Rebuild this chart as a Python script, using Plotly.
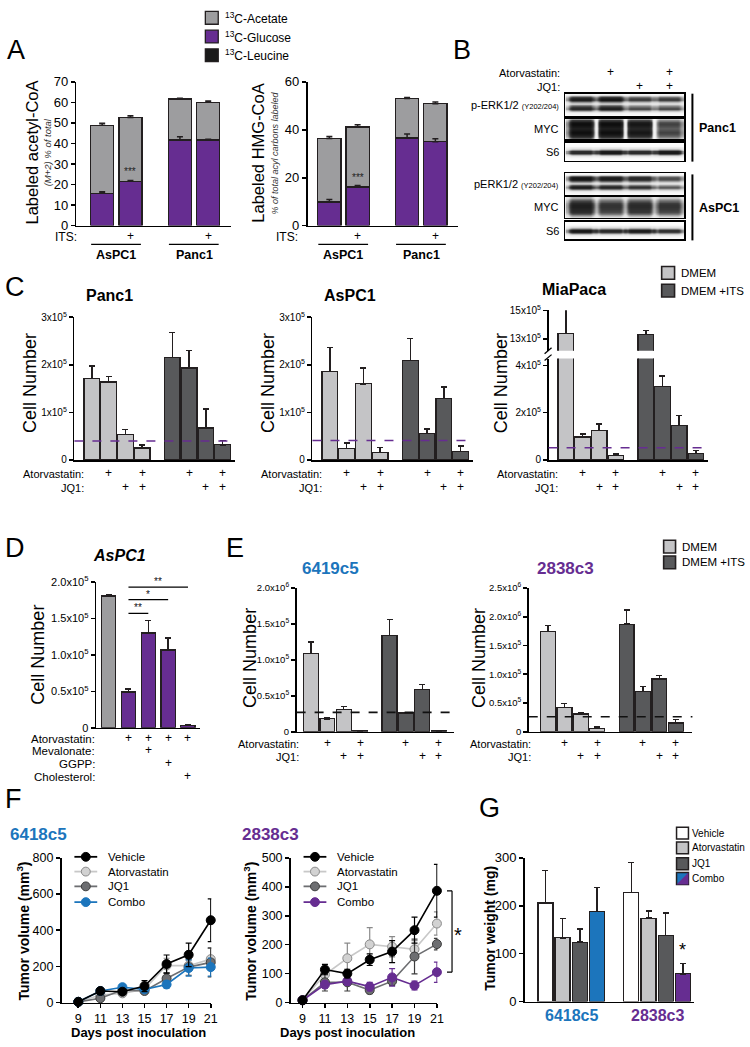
import plotly.graph_objects as go

W, H = 750, 1047
FONT = "Liberation Sans, Arial, sans-serif"
NARROW = FONT
INK = "#231f20"
LIGHT = "#c4c4c6"
DARK = "#58595b"
MID = "#9d9d9f"
PURPLE = "#662d91"
BLUE = "#1c75bc"

# ---------------- DATA ----------------
# Panel A (percent labelled)
A_cells = ["AsPC1", "AsPC1", "Panc1", "Panc1"]
A_its = ["", "+", "", "+"]
A_sig = ["", "***", "", ""]
acetyl_glucose = [15.7, 21.6, 41.7, 41.7]
acetyl_glucose_err = [0.8, 0.4, 1.6, 0.3]
acetyl_total = [48.9, 52.7, 61.7, 60.1]
acetyl_total_err = [1.0, 0.8, 0.3, 0.6]
hmg_glucose = [9.9, 16.1, 36.6, 35.0]
hmg_glucose_err = [1.0, 0.6, 1.6, 1.3]
hmg_total = [36.4, 41.2, 53.0, 50.9]
hmg_total_err = [0.8, 0.9, 0.5, 0.7]
A_legend = ["<sup>13</sup>C-Acetate", "<sup>13</sup>C-Glucose", "<sup>13</sup>C-Leucine"]

# Panel B (western blot band intensities, lanes 1-4)
B_atorva = ["", "+", "", "+"]
B_jq1 = ["", "", "+", "+"]
panc1_perk_lanes = [0.95, 1.0, 0.78, 0.78]
panc1_myc_lanes = [1.0, 1.0, 0.95, 0.72]
panc1_s6_lanes = [0.85, 0.95, 0.85, 0.95]
aspc1_perk_lanes = [1.0, 0.95, 0.88, 0.72]
aspc1_myc_lanes = [0.95, 0.82, 0.88, 0.82]
aspc1_s6_lanes = [0.95, 0.85, 0.92, 0.8]
perk_profile = [0.1, 0.8, 0.95, 0.55, 0.3, 0.7, 0.9, 0.5, 0.12, 0.05]
myc_profile_panc1 = [0.7, 0.92, 0.95, 0.9, 0.85, 0.9, 0.95, 0.9, 0.8, 0.6]
myc_profile_aspc1 = [0.45, 0.7, 0.85, 0.9, 0.9, 0.85, 0.8, 0.65, 0.4]
s6_profile = [0.02, 0.05, 0.3, 0.9, 0.95, 0.45, 0.08, 0.02]

# Panel C (cell number, x10^5)
C_atorva = ["", "+", "", "+", "", "+", "", "+"]
C_jq1 = ["", "", "+", "+", "", "", "+", "+"]
C_media = ["DMEM", "DMEM +ITS"]
c_panc1 = [1.71, 1.64, 0.54, 0.25, 2.15, 1.93, 0.67, 0.32]
c_panc1_err = [0.26, 0.11, 0.10, 0.06, 0.53, 0.37, 0.40, 0.09]
c_aspc1 = [1.86, 0.24, 1.60, 0.16, 2.09, 0.56, 1.29, 0.18]
c_aspc1_err = [0.50, 0.12, 0.33, 0.10, 0.46, 0.09, 0.24, 0.11]
c_miapaca = [13.37, 0.97, 1.24, 0.18, 13.3, 3.10, 1.45, 0.28]
c_miapaca_err = [1.7, 0.13, 0.29, 0.07, 0.3, 0.46, 0.44, 0.13]
c_baseline = [0.40, 0.41, 0.52]

# Panel D
D_rows = ["Atorvastatin:", "Mevalonate:", "GGPP:", "Cholesterol:"]
D_marks = [["", "+", "+", "+", "+"],
           ["", "", "+", "", ""],
           ["", "", "", "+", ""],
           ["", "", "", "", "+"]]
d_vals = [1.81, 0.49, 1.30, 1.07, 0.03]
d_err = [0.02, 0.04, 0.17, 0.16, 0.01]
d_sig = [("***", 0, 1, 2.14), ("**", 1, 4, 1.93), ("*", 1, 3, 1.76), ("**", 1, 2, 1.57)]

# Panel E
e_6419 = [1.09, 0.18, 0.31, 0.01, 1.34, 0.26, 0.59, 0.01]
e_6419_err = [0.16, 0.02, 0.04, 0.0, 0.22, 0.01, 0.07, 0.0]
e_2838 = [1.745, 0.42, 0.31, 0.06, 1.87, 0.70, 0.92, 0.15]
e_2838_err = [0.10, 0.07, 0.02, 0.02, 0.25, 0.09, 0.06, 0.06]
e_baseline = [0.27, 0.26]

# Panel F (tumor volume, mm3)
days = [9, 11, 13, 15, 17, 19, 21]
treatments = ["Vehicle", "Atorvastatin", "JQ1", "Combo"]
f1_vehicle = [4, 64, 60, 91, 213, 264, 455]
f1_vehicle_err = [3, 15, 12, 30, 50, 65, 118]
f1_atorva = [4, 42, 51, 73, 205, 204, 240]
f1_atorva_err = [2, 12, 12, 15, 40, 30, 60]
f1_jq1 = [4, 24, 69, 64, 133, 196, 222]
f1_jq1_err = [2, 15, 15, 12, 30, 45, 80]
f1_combo = [4, 64, 85, 73, 100, 191, 196]
f1_combo_err = [2, 12, 15, 12, 20, 45, 50]
f2_vehicle = [8, 114, 100, 148, 176, 250, 386]
f2_vehicle_err = [2, 18, 15, 20, 38, 45, 91]
f2_atorva = [8, 97, 153, 201, 193, 184, 273]
f2_atorva_err = [2, 15, 52, 58, 35, 30, 40]
f2_jq1 = [8, 70, 70, 43, 74, 159, 202]
f2_jq1_err = [2, 30, 30, 12, 15, 60, 20]
f2_combo = [8, 62, 74, 55, 87, 59, 105]
f2_combo_err = [2, 12, 15, 15, 30, 15, 35]

# Panel G (tumor weight, mg)
G_groups = ["6418c5", "2838c3"]
g_vehicle = [206, 228]
g_vehicle_err = [68, 62]
g_atorva = [133, 174]
g_atorva_err = [40, 15]
g_jq1 = [124, 138]
g_jq1_err = [27, 47]
g_combo = [188, 58]
g_combo_err = [50, 21]
g_sig = ["", "*"]

# ---------------- HELPERS ----------------
def X(p):
    return p / W

def Y(p):
    return 1 - p / H

axes_layout = {}
traces, shapes, annos = [], [], []
_count = [0]


def axes(x0, x1, ytop, ybot, xr, yr, ticks=None, ticktext=None, tsize=11, tfam=NARROW,
         xline=True, yline=True, xticks=None):
    _count[0] += 1
    s = "" if _count[0] == 1 else str(_count[0])
    xa = dict(domain=[X(x0), X(x1)], range=xr, anchor="y" + s, showgrid=False, zeroline=False,
              showline=xline, linecolor="black", linewidth=1.6, ticks="", showticklabels=False,
              fixedrange=True)
    if xticks is not None:
        xa.update(ticks="outside", ticklen=4, tickwidth=1.6, tickcolor="black", showticklabels=True,
                  tickmode="array", tickvals=xticks, tickfont=dict(size=tsize, family=tfam, color="black"))
    ya = dict(domain=[Y(ybot), Y(ytop)], range=yr, anchor="x" + s, showgrid=False, zeroline=False,
              showline=yline, linecolor="black", linewidth=1.6, ticks="outside", ticklen=4,
              tickwidth=1.6, tickcolor="black", fixedrange=True,
              tickfont=dict(size=tsize, family=tfam, color="black"))
    if ticks is not None:
        ya.update(tickmode="array", tickvals=ticks,
                  ticktext=ticktext if ticktext is not None else [str(t) for t in ticks])
    axes_layout["xaxis" + s] = xa
    axes_layout["yaxis" + s] = ya
    return "x" + s, "y" + s


def txt(x, y, t, size=12, fam=FONT, color="black", xa="center", ya="middle", angle=0,
        xref="paper", yref="paper", yshift=0):
    annos.append(dict(x=X(x) if xref == "paper" else x, y=Y(y) if yref == "paper" else y,
                      xref=xref, yref=yref, text=t, showarrow=False,
                      font=dict(size=size, family=fam, color=color), xanchor=xa, yanchor=ya,
                      textangle=angle, yshift=yshift))


def seg(x0, y0, x1, y1, xref="paper", yref="paper", color="black", width=1.5, dash=None):
    shapes.append(dict(type="line", xref=xref, yref=yref,
                       x0=X(x0) if xref == "paper" else x0, x1=X(x1) if xref == "paper" else x1,
                       y0=Y(y0) if yref == "paper" else y0, y1=Y(y1) if yref == "paper" else y1,
                       line=dict(color=color, width=width, dash=dash)))


def box(x0, y0, x1, y1, fill, lc=INK, lw=1.3):
    shapes.append(dict(type="rect", xref="paper", yref="paper", x0=X(x0), x1=X(x1), y0=Y(y1), y1=Y(y0),
                       fillcolor=fill, line=dict(color=lc, width=lw)))


def bar(xa, ya, pos, vals, err, colors, width):
    kw = {}
    if err is not None:
        kw["error_y"] = dict(type="data", array=err, arrayminus=[0] * len(err), symmetric=False,
                             color=INK, thickness=1.5, width=3)
    traces.append(go.Bar(x=pos, y=vals, xaxis=xa, yaxis=ya, width=width, showlegend=False,
                         marker=dict(color=colors, line=dict(color=INK, width=1.3)), **kw))


def errs(xa, ya, pos, vals, err):
    traces.append(go.Scatter(x=pos, y=vals, xaxis=xa, yaxis=ya, mode="markers", showlegend=False,
                             marker=dict(size=1, color="rgba(0,0,0,0)"),
                             error_y=dict(type="data", array=err, arrayminus=[0] * len(err),
                                          symmetric=False, color=INK, thickness=1.5, width=3)))


def frac(v, r):
    return (v - r[0]) / (r[1] - r[0])


def letter(x, y, t):
    txt(x, y, t, size=27, xa="left")

# ---------------- PANEL A ----------------
letter(5, 43, "A")
posA = [0, 1, 2.75, 3.75]
for (x0, x1, xr, glu, glu_e, tot, tot_e, yr, tk, ylab, sub, ylx, subx, subsize, itsx) in [
        (77, 233, [-0.912, 4.561], acetyl_glucose, acetyl_glucose_err, acetyl_total, acetyl_total_err,
         [0, 70], list(range(0, 71, 10)), "Labeled acetyl-CoA", "<i>(M+2) % of total</i>", 32, 48, 9.5, 80),
        (310, 462, [-0.772, 4.561], hmg_glucose, hmg_glucose_err, hmg_total, hmg_total_err,
         [0, 60], [0, 20, 40, 60], "Labeled HMG-CoA", "<i>% of total acyl carbons labeled</i>", 260, 277, 9, 302)]:
    xa, ya = axes(x0, x1, 75, 221, xr, yr, ticks=tk, tsize=13, tfam=FONT)
    acetate = [t - g for t, g in zip(tot, glu)]
    bar(xa, ya, posA, glu, None, PURPLE, 0.82)
    bar(xa, ya, posA, acetate, None, MID, 0.82)
    errs(xa, ya, posA, glu, glu_e)
    errs(xa, ya, posA, tot, tot_e)
    for p, g, s in zip(posA, glu, A_sig):
        if s:
            txt(p, g, s, size=10, color="#222222", xref=xa, yref=ya, ya="bottom", yshift=2)
    txt(itsx, 233, "ITS:", size=12, xa="right")
    for p, m in zip(posA, A_its):
        if m:
            txt(p, 232, m, size=12, xref=xa)
    for gi, name in enumerate(["AsPC1", "Panc1"]):
        a, b = posA[2 * gi], posA[2 * gi + 1]
        seg(a - 0.39, 240, b + 0.37, 240, xref=xa, width=1.3)
        txt((a + b) / 2, 251, "<b>" + name + "</b>", size=12.5, xref=xa)
    txt(ylx, 147, ylab, size=16.5, angle=-90)
    txt(subx, 147, sub, size=subsize, angle=-90, color="#333333")

for i, (lab, col) in enumerate(zip(A_legend, [MID, PURPLE, "#1a1a1a"])):
    yy = 10 + 19 * i
    box(207, yy - 6.5, 220, yy + 6.5, col)
    txt(225, yy, lab, size=12, xa="left")

# ---------------- PANEL B ----------------
letter(455, 43, "B")
blot_strips = [
    ("Panc1", "p-ERK1/2 <span style='font-size:7.5px'>(Y202/204)</span>", panc1_perk_lanes, perk_profile, 0.7, 87, 110),
    ("Panc1", "MYC", panc1_myc_lanes, myc_profile_panc1, 0.0, 113, 133),
    ("Panc1", "S6", panc1_s6_lanes, s6_profile, 0.85, 137, 155),
    ("AsPC1", "pERK1/2 <span style='font-size:7.5px'>(Y202/204)</span>", aspc1_perk_lanes, perk_profile, 0.75, 168, 190),
    ("AsPC1", "MYC", aspc1_myc_lanes, myc_profile_aspc1, 0.5, 192, 213),
    ("AsPC1", "S6", aspc1_s6_lanes, s6_profile, 0.9, 217, 235),
]
BX0, BX1 = 570, 690
for cell, lab, lanes, prof, gap, y0, y1 in blot_strips:
    cols = [0.5]
    for li, lv in enumerate(lanes):
        cols += [lv * 0.8] + [lv] * 8 + [lv * 0.8]
        cols += [gap * 0.9] if li < len(lanes) - 1 else [0.5]
    z = [[pv * cv for cv in cols] for pv in prof]
    xa, ya = axes(BX0, BX1, y0, y1, [-0.5, len(cols) - 0.5], [len(prof) - 0.5, -0.5])
    axes_layout["yaxis" + xa[1:]].update(ticks="", showticklabels=False, mirror=True)
    axes_layout["xaxis" + xa[1:]].update(mirror=True)
    traces.append(go.Heatmap(z=z, xaxis=xa, yaxis=ya, zsmooth="best", showscale=False, zmin=0, zmax=1,
                             colorscale=[[0, "#ffffff"], [0.3, "#dcdcdc"], [0.7, "#3a3a3a"], [1, "#050505"]],
                             hoverinfo="skip"))
    txt(566, (y0 + y1) / 2, lab, size=11, xa="right")
lane_w = (BX1 - BX0) / 4
txt(567, 66, "Atorvastatin:", size=11, xa="right")
txt(567, 80, "JQ1:", size=11, xa="right")
for li in range(4):
    cx = BX0 + (li + 0.5) * lane_w
    if B_atorva[li]:
        txt(cx, 65, "+", size=12)
    if B_jq1[li]:
        txt(cx, 79, "+", size=12)
seg(698, 87, 698, 156, width=2)
seg(698, 169, 698, 236, width=2)
txt(703, 122, "<b>Panc1</b>", size=12.5, xa="left")
txt(703, 203, "<b>AsPC1</b>", size=12.5, xa="left")

# ---------------- PANEL C ----------------
letter(3, 283, "C")
posC = [0, 1, 2, 3, 4.8, 5.8, 6.8, 7.8]
xrC = [-1.04, 8.55]
colC = [LIGHT] * 4 + [DARK] * 4
c_ticks = [0, 1, 2, 3]
c_ticktext = ["0", "1x10<sup>5</sup>", "2x10<sup>5</sup>", "3x10<sup>5</sup>"]


def plus_rows(xa, pos, rows, ys):
    for marks, yy in zip(rows, ys):
        for p, m in zip(pos, marks):
            if m:
                txt(p, yy, m, size=12, xref=xa)


for ci, (x0, vals, ev, title, ylx) in enumerate([(75, c_panc1, c_panc1_err, "Panc1", 30),
                                                  (315, c_aspc1, c_aspc1_err, "AsPC1", 270)]):
    xa, ya = axes(x0, x0 + 162, 314, 459, xrC, [0, 3], ticks=c_ticks, ticktext=c_ticktext, tsize=10)
    bar(xa, ya, posC, vals, ev, colC, 0.94)
    seg(0, c_baseline[ci], 1, c_baseline[ci], xref=xa + " domain", yref=ya, color=PURPLE, width=1.6, dash="dash")
    txt(x0 + 10, 292, "<b>" + title + "</b>", size=16, xa="left")
    txt(ylx, 381, "Cell Number", size=18, angle=-90)
    txt(x0 + 12, 473, "Atorvastatin:", size=11, xa="right")
    txt(x0 + 12, 487, "JQ1:", size=11, xa="right")
    plus_rows(xa, posC, [C_atorva, C_jq1], [472, 486])

# MiaPaca with broken axis
x0 = 553
xa_u, ya_u = axes(x0, x0 + 161, 307, 348, xrC, [12.17, 15], ticks=[13, 15],
                  ticktext=["13x10<sup>5</sup>", "15x10<sup>5</sup>"], tsize=10, xline=False)
bar(xa_u, ya_u, posC, c_miapaca, c_miapaca_err, colC, 0.94)
xa_l, ya_l = axes(x0, x0 + 161, 356, 459, xrC, [0, 4.29], ticks=[0, 2, 4],
                  ticktext=["0", "2x10<sup>5</sup>", "4x10<sup>5</sup>"], tsize=10)
bar(xa_l, ya_l, posC, c_miapaca, c_miapaca_err, colC, 0.94)
seg(0, c_baseline[2], 1, c_baseline[2], xref=xa_l + " domain", yref=ya_l, color=PURPLE, width=1.6, dash="dash")
seg(549, 351, 556, 345, width=1.3)
seg(549, 358, 556, 352, width=1.3)
txt(544, 286, "<b>MiaPaca</b>", size=16, xa="left")
txt(505, 381, "Cell Number", size=18, angle=-90)
txt(x0 + 12, 473, "Atorvastatin:", size=11, xa="right")
txt(x0 + 12, 487, "JQ1:", size=11, xa="right")
plus_rows(xa_l, posC, [C_atorva, C_jq1], [472, 486])

for i, (lab, col) in enumerate(zip(C_media, [LIGHT, DARK])):
    yy = 269 + 18 * i
    box(667, yy - 6.5, 680, yy + 6.5, col, lw=1.6)
    txt(684, yy, lab, size=11.5, xa="left")

# ---------------- PANEL D ----------------
letter(3, 548, "D")
posD = [0, 1, 2, 3, 4]
xrD = [-0.625, 4.625]
xa, ya = axes(97, 202, 583, 731, xrD, [0, 2.0], ticks=[0, 0.5, 1.0, 1.5, 2.0],
              ticktext=["0", "0.5x10<sup>5</sup>", "1.0x10<sup>5</sup>", "1.5x10<sup>5</sup>", "2.0x10<sup>5</sup>"],
              tsize=11)
bar(xa, ya, posD, d_vals, d_err, [MID] + [PURPLE] * 4, 0.72)
for lab, i, j, yv in d_sig:
    a = i - 0.45 if i == 0 else i
    b = j - 0.05 if i == 0 else j
    seg(frac(a, xrD), yv, frac(b, xrD), yv, xref=xa + " domain", yref=ya, width=1.3)
    annos.append(dict(x=frac((a + b) / 2, xrD), y=yv, xref=xa + " domain", yref=ya, text=lab,
                      showarrow=False, font=dict(size=10, family=FONT, color="#111111"),
                      xanchor="center", yanchor="bottom", yshift=-2))
txt(120, 556, "<b><i>AsPC1</i></b>", size=16)
txt(38, 657, "Cell Number", size=18, angle=-90)
for ri, (row, marks) in enumerate(zip(D_rows, D_marks)):
    yy = [742, 755, 768, 781][ri]
    txt(98, yy, row, size=11.5, xa="right")
    plus_rows(xa, posD, [marks], [yy - 1])

# ---------------- PANEL E ----------------
letter(226, 548, "E")
posE = [0, 1, 2, 3, 4.8, 5.8, 6.8, 7.8]
for ci, (x0, x1, xr, yr, vals, ev, title, tcol, ylx, tk, tt) in enumerate([
        (299, 458, [-0.88, 8.76], [0, 2.0], e_6419, e_6419_err, "6419c5", BLUE, 252,
         [0, 0.5, 1.0, 1.5, 2.0], ["0", "0.5x10<sup>5</sup>", "1.0x10<sup>5</sup>", "1.5x10<sup>5</sup>", "2.0x10<sup>6</sup>"]),
        (533, 698, [-1.18, 8.82], [0, 2.5], e_2838, e_2838_err, "2838c3", PURPLE, 483,
         [0, 0.5, 1.0, 1.5, 2.0, 2.5], ["0", "0.5x10<sup>5</sup>", "1.0x10<sup>5</sup>", "1.5x10<sup>5</sup>",
                                        "2.0x10<sup>6</sup>", "2.5x10<sup>6</sup>"])]):
    xa, ya = axes(x0, x1, 589, 735, xr, yr, ticks=tk, ticktext=tt, tsize=9.5)
    bar(xa, ya, posE, vals, ev, colC, 0.91)
    seg(0, e_baseline[ci], 1, e_baseline[ci], xref=xa + " domain", yref=ya, color="#111111", width=1.6, dash="dash")
    txt((x0 + x1) / 2 - 45, 569, "<b>" + title + "</b>", size=17, color=tcol)
    txt(ylx, 660, "Cell Number", size=18, angle=-90)
    txt(x0 + 4, 747, "Atorvastatin:", size=11, xa="right")
    txt(x0 + 4, 761, "JQ1:", size=11, xa="right")
    plus_rows(xa, posE, [C_atorva, C_jq1], [746, 760])
for i, (lab, col) in enumerate(zip(C_media, [LIGHT, DARK])):
    yy = 547 + 16 * i
    box(669, yy - 6.5, 681, yy + 6.5, col, lw=1.6)
    txt(685, yy, lab, size=11.5, xa="left")

# ---------------- PANEL F ----------------
letter(3, 803, "F")
styles = {"Vehicle": ("#000000", "#000000", "#000000"),
          "Atorvastatin": ("#c8c8c8", "#d2d2d2", "#8a8a8a"),
          "JQ1": ("#6d6e71", "#6d6e71", "#3c3c3c")}
for fi, (x0, x1, xr, yr, tk, series, ccol, title, tx, ylx, xlx) in enumerate([
        (62, 213, [7.48, 21.05], [0, 800], [0, 200, 400, 600, 800],
         [(f1_atorva, f1_atorva_err), (f1_jq1, f1_jq1_err), (f1_combo, f1_combo_err), (f1_vehicle, f1_vehicle_err)],
         BLUE, "6418c5", 39, 23, 140),
        (293, 441, [7.94, 21.05], [0, 500], [0, 100, 200, 300, 400, 500],
         [(f2_atorva, f2_atorva_err), (f2_jq1, f2_jq1_err), (f2_combo, f2_combo_err), (f2_vehicle, f2_vehicle_err)],
         PURPLE, "2838c3", 273, 252, 350)]):
    xa, ya = axes(x0, x1, 863, 1010, xr, yr, ticks=tk, tsize=12.5, tfam=FONT, xticks=days)
    names = ["Atorvastatin", "JQ1", "Combo", "Vehicle"]
    st = dict(styles)
    st["Combo"] = (ccol, ccol, ccol)
    for name, (vals, ev) in zip(names, series):
        lc, fc, ec = st[name]
        traces.append(go.Scatter(x=days, y=vals, xaxis=xa, yaxis=ya, mode="lines+markers", showlegend=False,
                                 cliponaxis=False, line=dict(color=lc, width=1.6),
                                 marker=dict(size=9, color=fc, line=dict(color=ec, width=1)),
                                 error_y=dict(type="data", array=ev, color=ec, thickness=1.2, width=3)))
    txt(tx, 839, "<b>" + title + "</b>", size=17, color=ccol)
    txt(ylx, 937, "<b>Tumor volume (mm<sup>3</sup>)</b>", size=14, angle=-90)
    txt(xlx, 1040, "<b>Days post inoculation</b>", size=13)
    lx = x0 + 13
    for i, name in enumerate(treatments):
        lc, fc, ec = st[name]
        yy = [862, 877, 892, 908][i]
        seg(lx, yy, lx + 23, yy, color=lc, width=1.8)
        shapes.append(dict(type="circle", xref="paper", yref="paper", x0=X(lx + 7), x1=X(lx + 16),
                           y0=Y(yy + 4.5), y1=Y(yy - 4.5), fillcolor=fc, line=dict(color=ec, width=1)))
        txt(lx + 32, yy, name, size=11.5, xa="left")
    if fi == 1:
        xb = frac(22.35, xr)
        xt = frac(21.9, xr)
        seg(xb, f2_vehicle[-1], xb, f2_combo[-1], xref=xa + " domain", yref=ya, width=1.2)
        seg(xt, f2_vehicle[-1], xb, f2_vehicle[-1], xref=xa + " domain", yref=ya, width=1.2)
        seg(xt, f2_combo[-1], xb, f2_combo[-1], xref=xa + " domain", yref=ya, width=1.2)
        annos.append(dict(x=frac(22.9, xr), y=(f2_vehicle[-1] + f2_combo[-1]) / 2, xref=xa + " domain", yref=ya,
                          text="*", showarrow=False, font=dict(size=20, family=FONT, color="black"),
                          xanchor="center", yanchor="middle", yshift=-4))

# ---------------- PANEL G ----------------
letter(481, 812, "G")
xrG = [-1.2, 8.67]
xa, ya = axes(529, 700, 863, 1009, xrG, [0, 300], ticks=[0, 100, 200, 300], tsize=13, tfam=FONT)
g_series = [(g_vehicle, g_vehicle_err, ["#ffffff", "#ffffff"]),
            (g_atorva, g_atorva_err, [LIGHT, LIGHT]),
            (g_jq1, g_jq1_err, [DARK, DARK]),
            (g_combo, g_combo_err, [BLUE, PURPLE])]
for ti, (vals, ev, cols) in enumerate(g_series):
    pos = [gi * 5 + ti for gi in range(len(G_groups))]
    bar(xa, ya, pos, vals, ev, cols, 0.87)
for gi, s in enumerate(g_sig):
    if s:
        txt(gi * 5 + 3, g_combo[gi] + g_combo_err[gi], s, size=18, xref=xa, yref=ya, ya="bottom", yshift=2)
for gi, (g, col) in enumerate(zip(G_groups, [BLUE, PURPLE])):
    txt(gi * 5 + 1.5, 1023, "<b>" + g + "</b>", size=16, color=col, xref=xa)
txt(494, 935, "<b>Tumor weight (mg)</b>", size=14, angle=-90)
for i, (name, col) in enumerate(zip(treatments, ["#ffffff", LIGHT, DARK, BLUE])):
    yy = [838, 853, 869, 884][i]
    box(682, yy - 6, 694, yy + 6, col, lw=1.5)
    txt(696, yy, name, size=10, xa="left")
shapes.append(dict(type="path", xref="paper", yref="paper",
                   path="M {} {} L {} {} L {} {} Z".format(X(694), Y(884 - 6), X(694), Y(884 + 6), X(682), Y(884 + 6)),
                   fillcolor=PURPLE, line=dict(color=INK, width=0)))

fig = go.Figure(data=traces)
fig.update_layout(width=W, height=H, margin=dict(l=0, r=0, t=0, b=0), paper_bgcolor="white",
                  plot_bgcolor="rgba(0,0,0,0)", barmode="stack", showlegend=False,
                  font=dict(family=FONT, color="black"), shapes=shapes, annotations=annos, **axes_layout)
fig.write_html("out.html", config={"displayModeBar": False, "staticPlot": True},
               post_script="document.body.style.margin='0';document.body.style.padding='0';"
                           "document.body.style.overflow='hidden';"
                           "document.documentElement.style.overflow='hidden';")
